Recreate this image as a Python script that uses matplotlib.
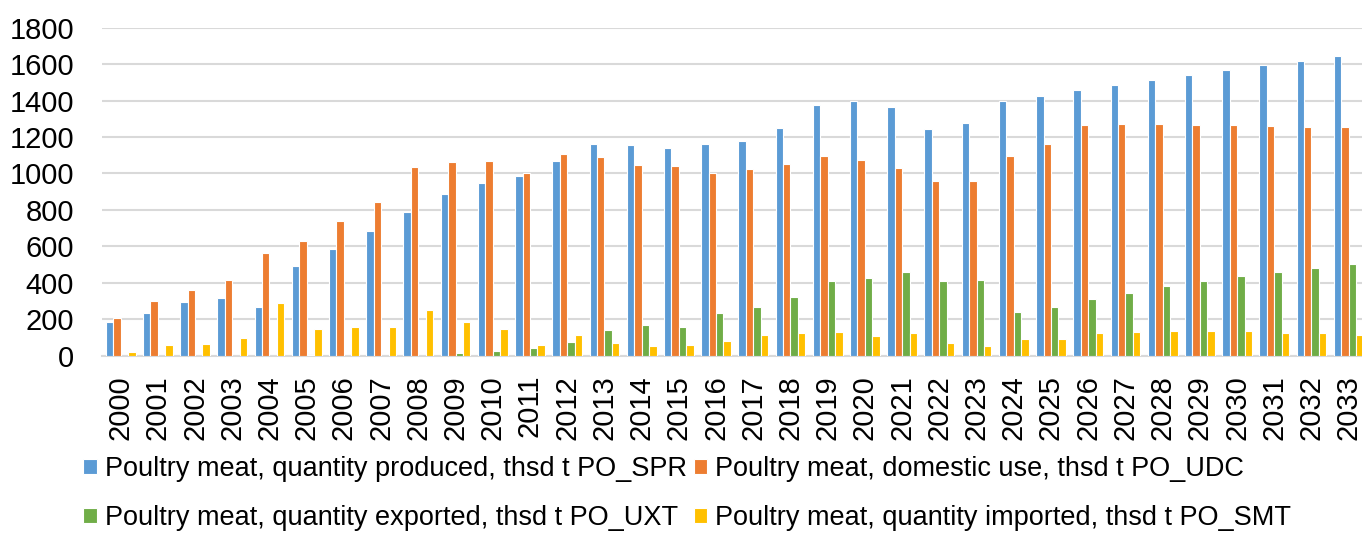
import matplotlib
matplotlib.use("Agg")
import matplotlib.pyplot as plt
import numpy as np

plt.rcParams["font.family"] = ["Liberation Sans", "DejaVu Sans"]

years = [str(y) for y in range(2000, 2034)]

produced = [185, 232, 293, 318, 269, 490, 585, 686, 788, 889,
            947, 988, 1070, 1161, 1158, 1139, 1161, 1178, 1251, 1374,
            1397, 1366, 1246, 1278, 1397, 1427, 1458, 1485, 1514, 1540,
            1569, 1593, 1619, 1642]
domestic = [207, 298, 360, 417, 565, 631, 739, 841, 1035, 1061,
            1070, 1004, 1108, 1092, 1046, 1039, 1004, 1024, 1052, 1096,
            1075, 1030, 960, 960, 1096, 1163, 1264, 1271, 1271, 1267,
            1264, 1260, 1257, 1255]
exported = [0, 0, 0, 0, 0, 5, 0, 0, 0, 15,
            26, 42, 73, 139, 166, 157, 232, 265, 324, 410,
            428, 459, 410, 417, 238, 269, 313, 346, 382, 410,
            435, 457, 481, 503]
imported = [18, 59, 62, 95, 291, 144, 157, 157, 249, 185,
            148, 57, 112, 71, 53, 57, 80, 113, 121, 130,
            108, 121, 66, 53, 90, 90, 123, 128, 137, 135,
            132, 126, 121, 110]

labels = [
    "Poultry meat, quantity produced, thsd t PO_SPR",
    "Poultry meat, domestic use, thsd t PO_UDC",
    "Poultry meat, quantity exported, thsd t PO_UXT",
    "Poultry meat, quantity imported, thsd t PO_SMT",
]
colors = ["#5B9BD5", "#ED7D31", "#70AD47", "#FFC000"]

fig = plt.figure(figsize=(13.62, 5.33), dpi=100)
ax = fig.add_axes([0.0749, 0.333, 0.929, 0.615])

x = np.arange(len(years))
w = 0.2
series = [produced, domestic, exported, imported]
handles = []
for i, (vals, col, lab) in enumerate(zip(series, colors, labels)):
    b = ax.bar(x + (i - 1.5) * w, vals, width=w, color=col,
               edgecolor="white", linewidth=0.8, label=lab, zorder=3)
    handles.append(b)

ax.set_xlim(-0.5, len(years) - 0.5)
ax.set_ylim(0, 1800)
ax.set_yticks(range(0, 1801, 200))
ax.set_xticks(x)
ax.set_xticklabels(years, rotation=90, fontsize=21)
ax.tick_params(axis="y", labelsize=21, length=0, pad=20)
ax.tick_params(axis="x", length=0, pad=14)
ax.grid(axis="y", color="#D9D9D9", linewidth=1.5, zorder=0)
for side in ["top", "right", "left"]:
    ax.spines[side].set_visible(False)
ax.spines["bottom"].set_color("#D9D9D9")
ax.spines["bottom"].set_linewidth(1.5)

# la légende se remplit par colonne : on réordonne pour avoir
# ligne 1 = produced, domestic ; ligne 2 = exported, imported
order = [0, 2, 1, 3]
fig.legend(handles=[handles[k] for k in order],
           labels=[labels[k] for k in order],
           ncol=2, loc="lower left", bbox_to_anchor=(0.061, 0.004),
           frameon=False, fontsize=19.5, borderpad=0, borderaxespad=0,
           handlelength=0.5, handleheight=0.5, handletextpad=0.3,
           columnspacing=0.25, labelspacing=0.85)

fig.savefig("out.png", dpi=100)
